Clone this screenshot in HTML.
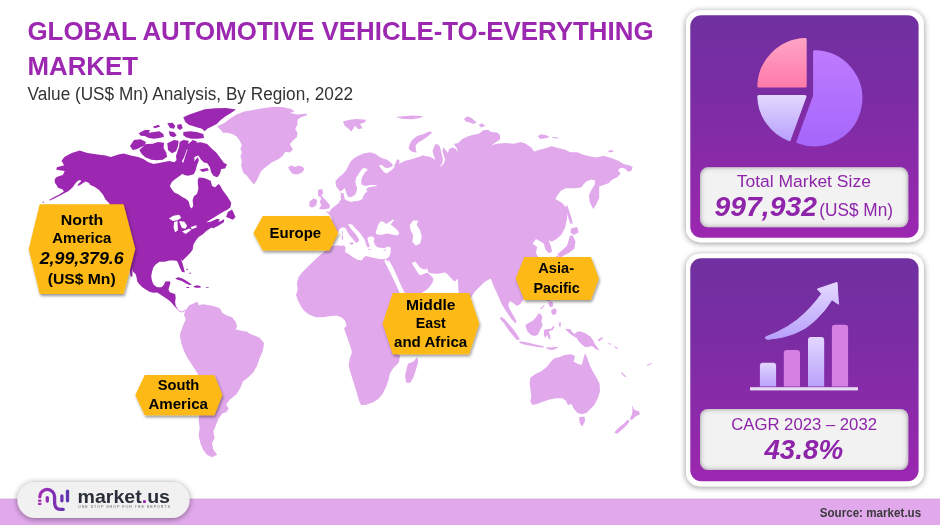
<!DOCTYPE html>
<html lang="en"><head><meta charset="utf-8"><title>Global Automotive Vehicle-to-Everything Market</title>
<style>html,body{margin:0;padding:0;background:#fff;}body{width:940px;height:525px;overflow:hidden;font-family:"Liberation Sans", Arial, sans-serif;}svg{display:block}</style>
</head><body>
<svg width="940" height="525" viewBox="0 0 940 525" font-family='"Liberation Sans", Arial, sans-serif'>
<defs>
<linearGradient id="pg" x1="0" y1="0" x2="0" y2="1"><stop offset="0" stop-color="#7030A0"/><stop offset="0.35" stop-color="#7A2DA3"/><stop offset="1" stop-color="#9C27B0"/></linearGradient>
<linearGradient id="fsh" x1="0" y1="0" x2="0" y2="1"><stop offset="0" stop-color="#caa0d2" stop-opacity="0.9"/><stop offset="1" stop-color="#d8a4e3" stop-opacity="0"/></linearGradient>
<linearGradient id="pink" x1="0" y1="0" x2="0" y2="1"><stop offset="0" stop-color="#FFA3C4"/><stop offset="1" stop-color="#FF7BAA"/></linearGradient>
<linearGradient id="lav" x1="0" y1="0" x2="0" y2="1"><stop offset="0" stop-color="#E2D6FF"/><stop offset="1" stop-color="#B9A2FC"/></linearGradient>
<linearGradient id="vio" x1="0" y1="0" x2="0" y2="1"><stop offset="0" stop-color="#BE7BFF"/><stop offset="1" stop-color="#A566FA"/></linearGradient>
<linearGradient id="arr" x1="0" y1="0" x2="0" y2="1"><stop offset="0" stop-color="#E4D8FF"/><stop offset="1" stop-color="#B7A0FB"/></linearGradient>
<linearGradient id="logo" x1="0" y1="0" x2="1" y2="0"><stop offset="0" stop-color="#A12AB4"/><stop offset="1" stop-color="#5B36B0"/></linearGradient>
<filter id="sh" x="-20%" y="-20%" width="140%" height="140%"><feGaussianBlur in="SourceAlpha" stdDeviation="3"/><feOffset dx="0" dy="1"/><feComponentTransfer><feFuncA type="linear" slope="0.45"/></feComponentTransfer><feMerge><feMergeNode/><feMergeNode in="SourceGraphic"/></feMerge></filter>
<filter id="sh2" x="-20%" y="-30%" width="140%" height="170%"><feGaussianBlur in="SourceAlpha" stdDeviation="1.7"/><feOffset dx="0.6" dy="1.6"/><feComponentTransfer><feFuncA type="linear" slope="0.42"/></feComponentTransfer><feMerge><feMergeNode/><feMergeNode in="SourceGraphic"/></feMerge></filter>
<filter id="inner" x="-5%" y="-5%" width="110%" height="110%"><feComponentTransfer in="SourceAlpha"><feFuncA type="table" tableValues="1 0"/></feComponentTransfer><feGaussianBlur stdDeviation="2.4"/><feOffset dx="0" dy="0" result="ob"/><feFlood flood-color="#2a0838" flood-opacity="0.85"/><feComposite in2="ob" operator="in"/><feComposite in2="SourceAlpha" operator="in" result="is"/><feMerge><feMergeNode in="SourceGraphic"/><feMergeNode in="is"/></feMerge></filter>
</defs>
<rect width="940" height="525" fill="#fff"/>
<path d="M217.1,126.2 L224.4,122.9 L230.5,118.3 L236.6,114.5 L244.2,111.4 L253.3,109.9 L260.9,108.4 L271.6,106.9 L282.3,106.9 L291.4,109.1 L294.5,111.4 L289.9,112.9 L297.5,114.5 L307.4,113.4 L306.6,115.2 L300.5,117.5 L297.5,119.8 L297.5,124.4 L295.2,128.9 L297.5,132.8 L296.7,137.3 L292.9,140.4 L289.9,144.2 L292.9,149.5 L289.9,152.6 L285.3,151.8 L283,155.6 L279.2,158.7 L276.2,160.2 L271.6,162.5 L267.8,165.5 L264,168.6 L260.9,171.6 L258.7,176.2 L257.1,179.8 L254.1,184.4 L251,181.3 L246.5,175.2 L243.4,173.1 L241.1,165.5 L241.9,160.9 L240.4,156.4 L241.9,152.6 L240.4,148.8 L241.9,144.9 L239.6,140.4 L236.6,136.6 L232.8,134.3 L227.4,132.8 L222.9,132.8 L220.6,129.7ZM288.1,167 L291.4,165.5 L295.2,167 L299,165.5 L302.8,167 L304.4,169.3 L302.1,172.4 L297.5,174.6 L292.9,173.9 L289.9,170.8ZM185.7,310.3 L189.2,305.2 L193.5,303.4 L197.8,301.7 L198.6,305.2 L202.9,304.3 L209.8,305.2 L216.6,306.9 L220,308.6 L222.6,312.9 L226.9,315.4 L232.1,317.2 L235.5,321.4 L237.2,326.6 L235.5,329.2 L242.3,330.9 L249.2,332.6 L256.1,335.2 L242.9,330 L250.6,333.9 L259.6,337.7 L264,342.9 L263,350.6 L259.6,358.3 L257,366 L253.2,372.4 L248,377.6 L242.9,381.4 L240.3,387.9 L236.5,394.3 L230,399.5 L226.2,404.6 L228.7,408.5 L226.2,412.3 L222.3,413.6 L218.5,418.7 L215.9,425.2 L213.3,431.6 L214.6,438 L212,443.2 L213.3,449.6 L217.2,454.8 L212,457.3 L206.9,454.8 L203,449.6 L200.5,443.2 L198.6,435.5 L199.7,427.7 L198.6,420 L199.7,412.3 L199.2,407.2 L199.7,394.3 L198.6,381.4 L197.9,373.7 L192.7,366 L187.6,358.3 L183.7,350.6 L181.2,342.9 L179.9,335.1 L181.2,330 L187.5,354 L184,347.2 L181.5,342 L180.3,336 L181.5,330 L183.2,324.9 L185.7,319.7 L184,314.6ZM177,308 L179.4,310.7 L182.5,311.3 L185,309.4 L185.6,310.7 L182.5,312.5 L179.2,311.9 L176.7,309.2ZM335.4,181.3 L338.9,177.3 L342.9,173.9 L346.3,169.9 L348.6,165.3 L350.9,161.3 L354.3,157.9 L358.3,155.7 L364.3,153.2 L370.3,152.3 L375.5,154 L380.6,157.5 L387.5,160 L391.8,163.5 L393.5,166.5 L396,162.6 L396.9,159.2 L399.5,160 L399.1,163.8 L404.6,160.9 L411.5,159.2 L420,156.6 L423.5,155.2 L426.9,156.6 L427.4,156 L432,157.7 L435.4,160 L433.7,155.4 L432.6,150.9 L434.3,146.3 L436,143.4 L439.4,145.7 L440.2,147.4 L443.8,147.4 L445.7,150.3 L448,153.1 L449.1,149.1 L452.6,147.4 L456,149.1 L457.7,152.6 L457.1,148.6 L453.7,144 L458.3,142.9 L461.7,139.4 L466.3,137.1 L472,134.9 L478.9,133.7 L483.4,130.3 L488,129.7 L491.4,132 L497.1,132.6 L500,134.9 L500,139.4 L494.9,142.9 L491.4,145.4 L496.6,143.7 L505.2,142.9 L513.7,143.7 L520.6,142 L525.7,143.7 L530.9,147.2 L534.3,151.4 L539.5,149.7 L546.3,148 L551.5,146.3 L558.3,148 L565.2,149.7 L570.3,152.3 L577.2,152.3 L584.1,154.9 L590.9,156.6 L596.6,157.4 L603.5,155.7 L612,158.3 L618.9,160.9 L624,164.3 L629.2,165.2 L632.6,166.9 L631.8,170.3 L628.3,172 L624.9,168.6 L620.6,167.7 L618,170.3 L620.6,173.7 L617.2,177.2 L612,179.7 L608.6,183.2 L603.5,184.9 L599.2,186.6 L599.2,191.7 L599.2,197.7 L596.6,203.7 L593.2,208.9 L589.7,202 L588.9,195.2 L591.4,190 L594.5,184.9 L595.2,180.6 L591.4,179.4 L586.3,181.4 L582.9,184.9 L581.2,187.5 L574.3,188.3 L565.7,188.3 L560.6,190.9 L557.1,196 L555.4,199.1 L562.3,203 L565.7,207.1 L566.9,212.9 L567.1,218.6 L565,227.7 L561.6,234.6 L556.6,239.1 L552,241.4 L548.6,240.5 L550.9,246 L552,251.7 L548.6,253.3 L545.1,248.7 L544,243.7 L540.6,241.4 L536,239.1 L532.6,243.7 L537.1,247.1 L536,252.9 L538.3,257.4 L545,265 L540,275 L530,280 L522,279 L518,284.6 L520.6,288.9 L523.2,294 L524,299.2 L520.6,303.4 L517.2,306 L513.7,303.4 L510.3,300.9 L508.3,304 L508.9,307.4 L511.3,312 L514.1,316.6 L516.5,321.4 L515.5,323.2 L512,319.7 L508.6,314.9 L505.5,310.3 L501.7,304.3 L499.2,298.3 L496.6,292.3 L494,287.1 L491.4,280.3 L490.6,278.6 L484.6,282 L479.4,287.1 L474.3,292.3 L470,299 L465,302 L461,297 L459.5,296 L458.8,293 L458.3,288.1 L458.1,282.4 L457.6,278.6 L456.7,279.5 L455.2,281.4 L453.3,280.5 L451.9,279 L450,277.1 L447.6,274.3 L445.2,272.4 L441.9,272.9 L438.1,273.8 L432.4,273.6 L428.6,272.4 L428.2,271.4 L427.8,269 L427.4,270.2 L428.1,272.9 L431.4,276.2 L433.3,278.6 L432.9,281.4 L431.4,284.3 L429,287.6 L425.7,290.5 L422.4,292.4 L410,300 L401,306 L412,305 L425,300 L432,303 L425,315 L415,330 L405,345 L397.7,353.4 L400,355.7 L398.9,362.6 L393.1,368.3 L389.7,374 L388.6,379.7 L386.3,386.6 L382.9,393.4 L378.3,399.1 L372.6,402.6 L365.7,404.9 L361.1,404.9 L359.3,401.4 L356.6,392.3 L353.8,383.1 L350.9,374 L348.6,366 L349.7,359.1 L352,352.3 L349.7,344.3 L346.3,335.1 L344,328.3 L346.6,325.7 L344.9,320.6 L341.4,317.2 L336.3,315.5 L329.4,316.3 L322.6,317.2 L315.7,317.2 L308.9,314.6 L303.7,310.3 L300.3,305.2 L297.7,300 L296,294.9 L297.7,289.7 L296.9,282.9 L298.6,276.9 L302,272.6 L306.3,268.3 L310.6,264 L315.7,258.9 L321.7,253.7 L326.9,249.4 L331.2,247.7 L328,243 L322,244 L316,240 L314,232 L316,224 L324,222 L331,223 L331.7,218.9 L330,215.4 L325.7,211.2 L329.2,212 L331.7,208.6 L336,205.2 L340.3,201.7 L338.3,202.4 L341.1,199.6 L340.6,196.7 L341.1,193.9 L340,191.6 L338.3,189.3 L336,185.9ZM318,189.7 L322.3,188.9 L323.2,193.2 L321.4,195.7 L325.7,200 L330,205.2 L329.2,208.6 L322.3,209.4 L318.9,208.6 L321.4,205.2 L319.7,201.7 L321.4,198.3 L318,195.7ZM309.4,201.7 L313.7,198.3 L317.1,200 L316.3,205.2 L312,207.7 L309.4,206ZM342.9,121.4 L349.7,119.7 L356.6,118.9 L366,119.7 L365.2,122.3 L360,124 L362.6,128.3 L358.3,129.2 L354.9,125.7 L351.4,131.7 L348,128.3 L344.6,125.7ZM396,117.1 L402.9,116.3 L411.5,115.4 L423.5,116.3 L420,118 L411.5,119.2 L402.9,118.9ZM430.9,131.4 L428,132 L422.9,134.3 L417.1,136 L412.6,139.4 L409.7,144 L408.6,148.6 L411.4,151.4 L416.6,152.8 L415.7,148.6 L415.7,145.4 L418.3,142.5 L422.5,139.9 L427.7,136.5 L431.9,132.9ZM464,118.9 L467.4,116.3 L471.7,118 L474.3,120.6 L476.9,122.3 L473.4,124 L469.2,122.3 L465.7,121.4ZM478.6,124.9 L482,123.2 L485.4,125.7 L481.2,127.4ZM537.8,136 L541.2,134.3 L546.3,135.2 L549.8,136.9 L544.6,138.6 L540.3,139.1ZM552.3,136.9 L558.3,137.4 L558.3,138.4 L552.3,138.1ZM608.3,150.6 L612.9,150.2 L613.4,152 L608.6,152.3ZM566.9,204.4 L569.4,211.7 L571.7,218.6 L572.8,223.6 L570.3,223.8 L567.8,216.3 L565.7,208.3ZM571,228.4 L577.1,227 L578.7,232.3 L573.9,235 L570.5,232.5ZM572.6,235.3 L575.5,241.4 L574.4,248.7 L569.6,252.6 L564.8,255.1 L560.2,257.4 L557.3,254.5 L562.5,249.7 L566.9,246 L568.9,239.8 L569.8,235.9ZM556.6,255.6 L559.3,257 L557.7,259.7 L555.4,258.6ZM500.7,316.7 L504.7,319.3 L508.7,324 L513.3,329.3 L517.3,334.7 L520,339.3 L516.7,340 L512.7,335.3 L508,329.3 L504,323.3 L500,318.7ZM519.3,341.3 L524,342 L530.7,343.3 L537.3,344.9 L543.3,346 L544,347.6 L537.3,347.1 L530.7,345.7 L524,344.4 L519.7,343.1ZM546,347.3 L550.7,347.6 L556.7,346.7 L553.3,349.3 L551.3,350 L546.7,348.7ZM525.3,325.3 L528.7,322.7 L532.7,320.7 L536,317.3 L538.7,313.3 L540.7,314 L542.4,316.7 L541.3,321.3 L542.7,325.3 L540,330 L538,334.7 L534.7,336 L530.7,334.7 L527.3,331.3ZM544,330 L546.7,329.3 L551.3,328.7 L553.3,326 L554.7,326.7 L552.7,330 L548.7,331.3 L550,335.3 L550.7,338.7 L548.7,338.7 L547.3,334.7 L545.3,338 L544,335.3ZM551.3,310 L554.7,308 L556.7,310 L556,314 L553.3,315.3 L551.3,312.7ZM548,302.7 L551.3,301.3 L553.3,303.3 L552.7,306.7 L550,307.3ZM546,298 L549.3,297.3 L550.4,300.7 L547.3,301.3ZM540,308.7 L544,304.7 L544.8,305.5 L540.8,309.5ZM558.7,322.7 L560.7,322 L560.8,326.7 L559.3,326.7ZM565.3,328.7 L570.7,329.3 L572,332 L574.7,334 L576.7,332 L580,331.3 L585.3,333.3 L590.7,336.7 L593.3,340.7 L595.3,344.7 L598.7,349.3 L599.3,350.7 L595.3,348.7 L593.3,346.7 L590.7,346 L588,347.3 L584.7,346.7 L581.3,344 L578.7,341.3 L576.7,338 L573.3,336 L569.3,333.3 L566.7,330.7ZM597.3,340 L602,337.3 L603.3,338 L599.3,341.3ZM608.7,342.7 L611.3,344 L610.7,344.9 L608.3,343.6ZM614.7,346 L618,348 L617.3,348.9 L614.3,347.1ZM552,348.7 L557.3,346.7 L558,347.6 L553.3,350ZM530.3,377.7 L534.9,374.3 L541.7,370.9 L547.4,366.3 L550.9,361.7 L554.3,358.3 L560,357.1 L564.6,354.9 L571.4,354.2 L574.9,356 L573.7,361.7 L578.3,364 L581.7,365.1 L583.5,358.3 L585.1,353.3 L587.4,358.3 L589.7,365.1 L593.1,372 L596.6,377.7 L599.5,383.4 L600,391.4 L597.7,398.3 L594.3,405.1 L589.7,409.7 L586.3,413.1 L581.7,414.3 L577.1,412.7 L573.7,408.6 L571.4,404 L568,405.1 L565.7,400.6 L562.3,398.3 L556.6,398.3 L549.7,399.4 L542.9,401.7 L537.1,404 L532.6,405.1 L530.3,401.7 L531.4,396 L530.3,389.1 L529.6,383.4ZM579,417.3 L584.5,416.6 L585.1,421.1 L582.2,426.4 L579.9,423.4ZM632,405.1 L634.3,409.7 L638.9,411.3 L640,414.3 L635.4,416.6 L632,420 L629.7,418.9 L632,414.3 L632.5,409.7ZM629.7,420.5 L627.4,424.6 L622.9,429.1 L617.1,433.7 L614.2,432.6 L618.3,428 L624,423.4 L627.4,420ZM621.7,372 L626.3,376.6 L625.1,377.3 L621,373.1ZM646.9,365.1 L651.4,362.9 L651.9,363.8 L647.3,366.1ZM408,363.7 L413.7,361.4 L417.1,356.9 L418.3,361.4 L416,369.4 L413.3,377.4 L410.3,382.7 L406.4,382.7 L405,376.3 L406.4,369.4Z" fill="#E1A9EC"/>
<path d="M49,199.9 L53.3,197.6 L59.3,194.4 L63.9,191.6 L62.7,189.5 L58,187.8 L56.7,185.2 L55,183.1 L54.6,180.1 L55.9,177.6 L59.3,175.9 L62.8,175 L64.7,171.1 L56.3,169.8 L56.9,167.2 L64.1,165.3 L61.5,160.7 L64.7,156.8 L71.8,153 L79.6,150.6 L87.4,153 L97.8,154.5 L105.5,155.6 L110.7,157.1 L118.5,154.5 L123.7,153.6 L131.7,155.7 L138.1,157 L143.3,159 L148.5,162.2 L153.7,164.1 L162.8,162.2 L169.2,160.9 L174.4,162.2 L178,158.5 L183.3,162.7 L185,157 L187,151 L191,149 L194,153 L194.5,160 L193,166 L190,168 L187.4,169.1 L184.8,171.7 L180.9,174.9 L175.7,178.8 L171.8,182 L169.9,185.9 L171.8,189.2 L174.4,192.4 L178.3,194.3 L182.2,196.9 L186.1,198.9 L188.7,201.5 L190,206.7 L191.9,208.6 L193.2,205.4 L192.6,200.2 L193.9,196.3 L197.1,193.7 L198.4,188.5 L197.8,183.3 L197.8,179.4 L199,177.5 L204.2,178.1 L210.7,180.7 L212,185.9 L215.2,187.2 L218.5,184 L219.8,185.1 L222.9,190.5 L227.4,196.6 L231.2,202.7 L230.5,207.2 L226.7,210.3 L226.1,210.3 L220,213.7 L213.2,218 L206.3,222.3 L209.8,222 L216.6,218.9 L220,219.2 L218.3,221.4 L220,221.4 L224.3,218.9 L223.8,222.3 L218.3,225.7 L213.2,228.3 L211.5,227.4 L206.3,230.9 L202.9,234.3 L198.6,236.9 L196,240.3 L193.5,244.6 L192.6,249.7 L190,253.2 L185.7,257.5 L182.3,260.9 L180.7,258.7 L182.5,263.6 L183.9,268.6 L184.8,272.3 L182,272 L179.7,267.3 L178.2,263.6 L177,261.1 L174.5,260.5 L169.5,260.5 L164.6,261.8 L159.6,261.8 L155.9,264.2 L153.4,267.3 L152,271.7 L151.2,276.6 L152,281 L153.7,284.7 L157.2,287.2 L161.5,287.2 L164,284.7 L165.2,281.6 L169.5,281.2 L170.5,282.4 L169.5,285.9 L168.5,289.6 L169.5,292.1 L172.6,293.3 L175.1,294 L175.7,297.7 L175.1,302 L175.7,305.7 L177.2,308.2 L177.2,308.9 L174.5,306.3 L172,303.3 L168.9,300.2 L165.2,297.7 L161.5,295.2 L157.2,292.5 L153.3,292.8 L149.5,291.7 L145.8,289.6 L142.7,287.5 L139.6,284.6 L137.3,281.5 L136.6,277.6 L135.5,274.1 L133,271.7 L132.4,268.6 L132.4,276.6 L130.5,276.6 L129.9,271.1 L126,258 L120,240 L114,222 L111,212 L109.4,203.5 L105.5,199.6 L102.9,194.4 L99,189.9 L95.2,187.3 L90,184.7 L89,183.1 L85.6,181.4 L83.1,183.1 L79.7,185.2 L77.1,186.1 L78.8,183.5 L81,181.4 L80.5,180.1 L78.4,180.5 L76.3,182.2 L74.6,184.4 L72.9,186.9 L70.3,189.5 L67.8,191.6 L65.2,192.7 L60.1,195.4 L54.1,198.4 L49.9,200.5ZM42.5,202 L44,201.6 L44,202.4 L42.5,202.8ZM227.8,212 L232.1,209.4 L235.5,217.1 L232.9,219.7 L228.6,218 L226.1,217.1ZM175.1,278.5 L178.2,277.2 L181.9,278.2 L185.6,280.3 L189.3,282.8 L191.8,284.7 L189.3,284.9 L185.6,283.2 L181.9,281 L177.6,279.7ZM193.1,286.5 L196.8,285.3 L200.5,285.9 L200.5,287.8 L195.5,287.8ZM186.3,287 L189.3,287 L188.9,288.1 L186.6,288ZM206,287 L208.6,287 L208.6,287.8 L206,287.8ZM186.3,269.2 L187.5,268.6 L187.9,269.8 L186.6,270.2ZM189.3,272.9 L190.3,272.3 L190.8,273.8 L189.7,274.1ZM186.8,146.7 L193.2,142.9 L200.9,142.2 L207.2,144.1 L211.1,148 L216.2,152.4 L220,157.6 L223.8,162.7 L227,164.6 L225.1,168.4 L221.3,169 L220,173.5 L217.4,177.3 L213.6,176.1 L211.1,172.2 L209.8,167.1 L207.2,163.3 L203.4,162 L200.9,159.5 L198.3,155.6 L194.5,156.9 L190.6,162 L187.4,164.6 L188.7,159.5 L190,154.4 L187.4,150.5ZM183.3,117.3 L188.7,114.7 L196.7,112 L204.7,109.3 L215.3,108.3 L226,108 L236,109.6 L231.3,112.7 L226,116 L220.7,120 L216.7,124 L211.3,126.7 L207.3,128.7 L204.7,131.3 L202,128.7 L196.7,127.3 L192.7,126 L188.7,124.7 L185.3,122ZM183.3,132 L190,131.3 L196.7,132 L203.3,134 L204,138 L198,138.7 L191.3,138.7 L186,137.3 L183.3,135.3ZM167.3,123.3 L172.7,122.7 L175.3,126 L174,128.7 L170,128ZM177.3,124.7 L181.3,124 L182.7,128 L180,130 L177.3,128ZM168.7,131.3 L174,132 L176.7,135.3 L174,137.3 L170,136ZM138.7,133.3 L144.7,130 L150,130 L148.7,132.7 L154,132 L159.3,131.3 L163.3,134 L164,136.7 L159.3,138 L154,138.7 L148.7,138 L144.7,136 L140.7,135.7ZM152.7,126.7 L158.7,124.7 L160,126.7 L154.7,128.3ZM130,146 L134,140 L140.7,139.3 L146,142 L144.7,145.3 L140.7,147.3 L136.7,149.3 L132.7,150ZM139.3,150 L146,144 L152.7,143.7 L158,142 L164,142.7 L163.6,148 L166.3,152.7 L167.1,156.7 L162.7,159.7 L156.7,160.3 L151.3,159.7 L145.3,157.3 L141.7,154ZM167.3,143.3 L174,140 L178.7,140.7 L178,146 L176,151.3 L172,153.3 L168,150ZM179.6,142 L183.3,140 L188.7,140.7 L188,146 L186,152 L184,157.3 L181.3,162.7 L176.7,162 L176,156 L177.7,150.7 L179.1,146.7ZM187.6,144.7 L192.7,140 L196.7,141.3 L196,146.7 L192.7,150.7 L189.3,149.6ZM182.2,173.7 L193.6,162.3 L197.6,157.2 L199,160 L196.8,165.7 L195.7,170.3 L193.8,174.3 L187.9,175.7 L184.4,174.9ZM199.3,169.4 L207.3,168.1 L209,170.3 L202.7,172.1ZM203.3,160.6 L206.7,159.7 L207.5,162.3 L204.5,162.9Z" fill="#9C27B0"/>
<path d="M168.9,218.5 L173.4,215.8 L179.2,214.7 L181.3,217.8 L177.5,220.2 L172.9,221.1ZM174.1,222 L177.5,221.1 L177.9,230.2 L175.1,232.2 L173.6,227.4ZM179.2,220.9 L184.4,221.8 L187.1,225.7 L185.4,228.8 L182,228 L180.1,224ZM182,231.6 L189.2,228.6 L191.4,229.8 L185.7,234ZM190.6,227.1 L196.4,225.2 L196.6,227.4 L191.6,229.2ZM364,168.1 L366.9,168.7 L367.4,170.4 L365.1,172.1 L363.4,175 L361.7,177.9 L361.1,181.9 L361.7,184.7 L365.7,185.9 L370.3,184.9 L376.6,184.9 L376.6,186.1 L371.4,186.8 L368,187.6 L366.3,189.3 L367.4,191.6 L365.1,193.3 L363.4,196.1 L362.3,199 L358.9,200.7 L354.3,201.3 L350.9,201.9 L347.4,200.7 L344.6,199 L344,196.1 L343.4,192.7 L341.7,193.3 L340,191.3 L342.9,189.9 L344.6,188.1 L345.7,190.4 L346.9,194.4 L348.6,197.3 L352,196.7 L354.9,195 L356.6,191.6 L357.1,188.1 L356,185.3 L355.4,181.9 L356,177.9 L358.3,174.4 L360.6,171 L362.3,168.7ZM379.2,164.4 L382.6,165.5 L384.6,167.6 L387.7,168.1 L391.1,167 L393.4,165.3 L394.9,166.2 L393.1,168.7 L390.3,171 L386.9,173.5 L384,172.1 L381.7,169.3 L380,167ZM330.7,246.4 L334.5,241.7 L337.4,234 L339.3,229.3 L342.6,227.2 L345.5,228.1 L347.4,231.7 L349.3,235 L352.1,238.3 L354.5,240.9 L356,242.8 L357.9,242.1 L359.3,240.2 L358.3,237.9 L356,234.5 L353.1,231.2 L350.2,227.9 L347.9,224 L352.1,224.5 L354.5,227.4 L357.9,230.7 L360.7,234 L363.1,237.4 L365,240.2 L365.5,242.6 L366.4,245.5 L367.9,247.4 L369.8,246.4 L368.8,243.6 L367.9,240.7 L367.4,237.9 L369.8,236.4 L372.6,236.7 L374.5,237.9 L373.8,240.7 L374.5,244 L376.4,246.4 L378.3,247.4 L384,248.3 L388.3,246.6 L390.7,247.4 L390.5,253.1 L389,256.9 L386,258.8 L382.1,259.3 L378.3,258.8 L374.5,257.9 L369.8,256.9 L366,256 L363.1,257.9 L361.7,260.5 L357.4,259.8 L352.6,256.9 L348.8,254 L345.2,252.3 L345.5,247.4 L344,245.3 L340.7,246 L337.9,245.3ZM375.5,232.1 L376.9,229.3 L378.3,224.5 L380.7,221.2 L384,222.1 L386,224 L389.8,221.7 L393.1,219.3 L394,220.2 L391.7,223.1 L390.7,224.5 L394.5,227.4 L397.9,230.7 L399.3,233.6 L397.4,235.5 L391.7,234.5 L386.9,233.6 L383.1,234.5 L379.3,235 L376.4,234ZM409.8,224.9 L413.2,220.6 L418.3,220.6 L416.6,224.9 L420,230 L421.8,236.9 L420,243.7 L415.8,245.5 L412.3,242 L413.2,235.2 L410.6,230ZM411.9,262.9 L415.2,261.4 L417.6,264.3 L419.5,267.1 L422.4,269 L425.7,269.5 L427,268.3 L427.6,270.5 L428.3,272.5 L427.1,273.3 L425.7,272.9 L423.3,274.3 L420,275.2 L417.6,272.4 L415.2,268.6 L412.4,264.3ZM384.3,261 L386,258.8 L387.3,262 L388.3,260 L389.6,261.8 L392.5,266.5 L396,274 L399.5,282 L403,289.5 L405.2,294 L400.4,294 L399.2,291.8 L395.8,284.3 L391.9,276 L387.8,268ZM440,146.9 L443.4,146.9 L442.5,150.9 L443.7,155.4 L445.1,159.4 L444,163.2 L440.8,166.6 L440.2,165.7 L442.3,163.2 L442.9,158.9 L441.7,154.3 L440.6,149.7Z" fill="#fff"/>
<path d="M349.3,242.8 L353.6,242.6 L353.4,244.3 L350.7,244.7ZM341.7,235.5 L343.1,235.5 L343.1,239.8 L341.8,239.8ZM342,231.2 L342.9,231.2 L342.9,234 L342,234ZM367.9,248.9 L370.9,248.9 L370.9,249.8 L367.9,249.8ZM383.6,249.9 L386,249.5 L386.1,250.4 L383.8,250.8Z" fill="#E1A9EC"/>
<rect x="0" y="499" width="940" height="26" fill="#E1A9EC"/>
<rect x="0" y="498.6" width="940" height="2.2" fill="url(#fsh)"/>
<text x="27.5" y="40" font-size="26.2" font-weight="bold" font-style="normal" fill="#9C27B0" text-anchor="start" textLength="626" lengthAdjust="spacingAndGlyphs">GLOBAL AUTOMOTIVE VEHICLE-TO-EVERYTHING</text>
<text x="27.5" y="74.5" font-size="26.2" font-weight="bold" font-style="normal" fill="#9C27B0" text-anchor="start" textLength="110.5" lengthAdjust="spacingAndGlyphs">MARKET</text>
<text x="27.5" y="99.5" font-size="18" font-weight="normal" font-style="normal" fill="#333" text-anchor="start" textLength="325.5" lengthAdjust="spacingAndGlyphs">Value (US$ Mn) Analysis, By Region, 2022</text>
<rect x="686" y="10.5" width="237.8" height="231.7" rx="14" fill="#fff" filter="url(#sh)"/><rect x="690.3" y="15.2" width="228.3" height="222.5" rx="11" fill="url(#pg)"/>
<rect x="686" y="253.7" width="237.8" height="232.6" rx="14" fill="#fff" filter="url(#sh)"/><rect x="690.3" y="258.2" width="228.3" height="223.1" rx="11" fill="url(#pg)"/>
<rect x="700" y="167.3" width="208.3" height="60" rx="8" fill="#F2F2F2" filter="url(#inner)"/>
<rect x="700" y="409" width="208.3" height="61" rx="8" fill="#F2F2F2" filter="url(#inner)"/>
<text x="736.7" y="187.3" font-size="17.4" font-weight="normal" font-style="normal" fill="#8E24AA" text-anchor="start" textLength="134.2" lengthAdjust="spacingAndGlyphs">Total Market Size</text>
<text x="714.6" y="216.4" font-size="28" font-weight="bold" font-style="italic" fill="#8E24AA" text-anchor="start" textLength="102.3" lengthAdjust="spacingAndGlyphs">997,932</text>
<text x="819.3" y="216.4" font-size="18" font-weight="normal" font-style="normal" fill="#8E24AA" text-anchor="start" textLength="73.7" lengthAdjust="spacingAndGlyphs">(US$ Mn)</text>
<text x="731.2" y="430.1" font-size="17.4" font-weight="normal" font-style="normal" fill="#8E24AA" text-anchor="start" textLength="145.8" lengthAdjust="spacingAndGlyphs">CAGR 2023 – 2032</text>
<text x="764.4" y="458.6" font-size="28" font-weight="bold" font-style="italic" fill="#8E24AA" text-anchor="start" textLength="78.8" lengthAdjust="spacingAndGlyphs">43.8%</text>
<g stroke-width="3" stroke-linejoin="round">
<path d="M805.2,85.9 L758.8,85.9 A47.9,47.9 0 0 1 805.2,39.5 Z" fill="url(#pink)" stroke="url(#pink)"/>
<path d="M805,96.6 L758.8,96.6 A47.8,47.8 0 0 0 789.3,139.6 Z" fill="url(#lav)" stroke="url(#lav)"/>
<path d="M814.6,51.8 A46.5,46.5 0 1 1 797.9,141.8 L814.6,96 Z" fill="url(#vio)" stroke="url(#vio)"/>
</g>

<rect x="750" y="387.2" width="108" height="3.2" fill="#E9DBF3"/>
<path d="M759.9,386.6 V365.7 a3,3 0 0 1 3,-3 h10.2 a3,3 0 0 1 3,3 V386.6 Z" fill="url(#lav)"/>
<path d="M783.8,386.6 V352.9 a3,3 0 0 1 3,-3 h10.2 a3,3 0 0 1 3,3 V386.6 Z" fill="#D680E3"/>
<path d="M808,386.6 V340 a3,3 0 0 1 3,-3 h10.2 a3,3 0 0 1 3,3 V386.6 Z" fill="url(#lav)"/>
<path d="M831.9,386.6 V327.7 a3,3 0 0 1 3,-3 h10.2 a3,3 0 0 1 3,3 V386.6 Z" fill="#D680E3"/>
<path d="M765.6,337 Q790,328 805,313 Q816,302 821.6,293.8 L817.4,289 L837,282.4 L838.5,304.3 L831.9,299.7 Q826,310 815,320.5 Q798,337 768,339.3 Q764.5,339 765.6,337 Z" fill="url(#arr)" stroke="url(#arr)" stroke-width="1" stroke-linejoin="round"/>

<polygon points="28.7,249 39.7,204.2 123.6,204.2 135.3,249 123.6,294 39.7,294" fill="#FDB913" filter="url(#sh2)"/><text x="60.7" y="224.5" font-size="15.5" font-weight="bold" font-style="normal" fill="#000" text-anchor="start" textLength="42.5" lengthAdjust="spacingAndGlyphs">North</text><text x="52.3" y="243" font-size="15.5" font-weight="bold" font-style="normal" fill="#000" text-anchor="start" textLength="59" lengthAdjust="spacingAndGlyphs">America</text><text x="39.7" y="264.3" font-size="15.8" font-weight="bold" font-style="italic" fill="#000" text-anchor="start" textLength="84" lengthAdjust="spacingAndGlyphs">2,99,379.6</text><text x="47.7" y="283.5" font-size="15.5" font-weight="bold" font-style="normal" fill="#000" text-anchor="start" textLength="68" lengthAdjust="spacingAndGlyphs">(US$ Mn)</text>
<polygon points="253.4,232.9 262.7,216 329.4,216 338.3,232.9 329.4,250.4 262.7,250.4" fill="#FDB913" filter="url(#sh2)"/><text x="269.6" y="238.3" font-size="15.5" font-weight="bold" font-style="normal" fill="#000" text-anchor="start" textLength="51.5" lengthAdjust="spacingAndGlyphs">Europe</text>
<polygon points="515.6,278.4 524.3,257.1 590.9,257.1 598.9,278.4 590.9,299.9 524.3,299.9" fill="#FDB913" filter="url(#sh2)"/><text x="538.3" y="273.3" font-size="15.5" font-weight="bold" font-style="normal" fill="#000" text-anchor="start" textLength="35.7" lengthAdjust="spacingAndGlyphs">Asia-</text><text x="533.4" y="292.5" font-size="15.5" font-weight="bold" font-style="normal" fill="#000" text-anchor="start" textLength="46.4" lengthAdjust="spacingAndGlyphs">Pacific</text>
<polygon points="382.6,323.4 392.7,293 469.1,293 479.3,323.4 469.1,354.2 392.7,354.2" fill="#FDB913" filter="url(#sh2)"/><text x="406" y="309.5" font-size="15.5" font-weight="bold" font-style="normal" fill="#000" text-anchor="start" textLength="49.5" lengthAdjust="spacingAndGlyphs">Middle</text><text x="415.8" y="328.3" font-size="15.5" font-weight="bold" font-style="normal" fill="#000" text-anchor="start" textLength="30" lengthAdjust="spacingAndGlyphs">East</text><text x="394" y="346.7" font-size="15.5" font-weight="bold" font-style="normal" fill="#000" text-anchor="start" textLength="73.2" lengthAdjust="spacingAndGlyphs">and Africa</text>
<polygon points="135.3,394.9 144.7,374.9 214.4,374.9 222.4,394.9 214.4,415.3 144.7,415.3" fill="#FDB913" filter="url(#sh2)"/><text x="157.7" y="390.4" font-size="15.5" font-weight="bold" font-style="normal" fill="#000" text-anchor="start" textLength="41.6" lengthAdjust="spacingAndGlyphs">South</text><text x="148.4" y="408.7" font-size="15.5" font-weight="bold" font-style="normal" fill="#000" text-anchor="start" textLength="59.6" lengthAdjust="spacingAndGlyphs">America</text>
<rect x="17.5" y="482" width="172" height="36" rx="18" fill="#F1F1F1" filter="url(#sh)"/>
<linearGradient id="logo2" gradientUnits="userSpaceOnUse" x1="38" y1="0" x2="70" y2="0"><stop offset="0" stop-color="#A62BB5"/><stop offset="1" stop-color="#5B36B0"/></linearGradient>
<g fill="none" stroke="url(#logo2)" stroke-width="3.3" stroke-linecap="round">
<path d="M39.8,496.8 A7.4,7.4 0 0 1 54.6,496.8 L54.6,503 Q55,509.4 60.6,509.4 L63.2,509.4"/>
<path d="M47.3,497.6 L47.3,501"/>
<path d="M61.9,496 L61.9,500.8"/>
<path d="M67.5,491.2 L67.5,500.8"/>
</g>
<rect x="38.1" y="499.6" width="3.3" height="2.2" fill="#A62BB5"/><rect x="38.1" y="502.8" width="3.3" height="2.2" fill="#A62BB5"/>

<text x="77.5" y="502.5" font-size="18.6" font-weight="bold" font-style="normal" fill="#2B2F3A" text-anchor="start" textLength="92.5" lengthAdjust="spacingAndGlyphs">market<tspan fill="#9C27B0">.</tspan>us</text>
<text x="78" y="508.4" font-size="3.7" font-weight="normal" font-style="normal" fill="#666" text-anchor="start" textLength="92" lengthAdjust="spacing">ONE STOP SHOP FOR THE REPORTS</text>
<text x="819.7" y="517.2" font-size="13" font-weight="bold" font-style="normal" fill="#3A3A3A" text-anchor="start" textLength="101.5" lengthAdjust="spacingAndGlyphs">Source: market.us</text>
</svg>
</body></html>
